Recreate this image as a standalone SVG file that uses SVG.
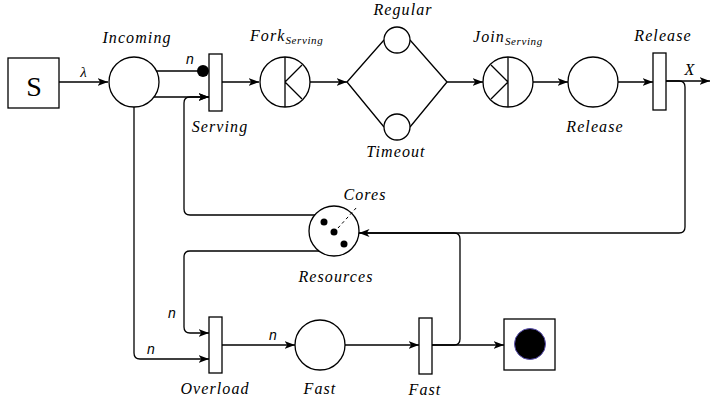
<svg xmlns="http://www.w3.org/2000/svg" width="710" height="406" viewBox="0 0 710 406">
<style>
.sh{fill:#fff;stroke:#000;stroke-width:1.3}
.ed{fill:none;stroke:#000;stroke-width:1.3}
.lb{font-family:"Liberation Serif",serif;font-style:italic;font-size:16px;letter-spacing:1.1px;fill:#000}
.sub{font-size:11px;letter-spacing:0.6px}
.n{font-family:"Liberation Sans",sans-serif;font-style:italic;font-size:14px;fill:#000}
</style>
<defs>
<marker id="ar" markerUnits="userSpaceOnUse" markerWidth="12" markerHeight="9" refX="10.5" refY="4" orient="auto">
<path d="M0,0 L10.5,4 L0,8 L2.8,4 z" fill="#000"/>
</marker>
</defs>
<g id="connectors">
<path class="ed" d="M59,82 L108,82" marker-end="url(#ar)"/>
<path class="ed" d="M156,71 L198,71"/>
<circle cx="203" cy="71" r="6" fill="#000"/>
<path class="ed" d="M154,97 L209,97" marker-end="url(#ar)"/>
<path class="ed" d="M315,215 L190,215 Q184,215 184,209 L184,103 Q184,97 190,97 L209,97" marker-end="url(#ar)"/>
<path class="ed" d="M222,82 L259,82" marker-end="url(#ar)"/>
<path class="ed" d="M310,82 L347,82" marker-end="url(#ar)"/>
<path class="ed" d="M347,82 L384,40 M410,40 L447,82 M347,82 L384,127 M410,127 L447,82"/>
<path class="ed" d="M447,82 L483,82" marker-end="url(#ar)"/>
<path class="ed" d="M533,82 L568,82" marker-end="url(#ar)"/>
<path class="ed" d="M618,82 L653,82" marker-end="url(#ar)"/>
<path class="ed" d="M666,81 L710,81" marker-end="url(#ar)"/>
<path class="ed" d="M666,81 L679,81 Q685,81 685,87 L685,227 Q685,233 679,233 L359,233" marker-end="url(#ar)"/>
<path class="ed" d="M432,345 L454,345 Q460,345 460,339 L460,239 Q460,233 454,233 L359,233"/>
<path class="ed" d="M134,107 L134,353 Q134,359 140,359 L209,359" marker-end="url(#ar)"/>
<path class="ed" d="M319,251 L190,251 Q184,251 184,257 L184,327 Q184,333 190,333 L209,333" marker-end="url(#ar)"/>
<path class="ed" d="M222,345 L295,345" marker-end="url(#ar)"/>
<path class="ed" d="M345,345 L419,345" marker-end="url(#ar)"/>
<path class="ed" d="M432,345 L504,345" marker-end="url(#ar)"/>
<text class="lb" x="84" y="77" text-anchor="middle" style="font-size:15px">λ</text>
<text class="n" x="190" y="64" text-anchor="middle">n</text>
<text class="lb" x="690" y="75" text-anchor="middle">X</text>
<text class="n" x="172" y="318" text-anchor="middle">n</text>
<text class="n" x="151" y="354" text-anchor="middle">n</text>
<text class="n" x="273" y="340" text-anchor="middle">n</text>
</g>
<g id="source">
<rect class="sh" x="8" y="58" width="51" height="50"/>
<text x="34" y="96" text-anchor="middle" font-family="Liberation Serif, serif" font-size="28">S</text>
</g>
<g id="incoming">
<circle class="sh" cx="134" cy="82" r="25"/>
<text class="lb" x="137" y="43" text-anchor="middle">Incoming</text>
</g>
<g id="serving">
<rect class="sh" x="209" y="54" width="13" height="57"/>
<text class="lb" x="220" y="132" text-anchor="middle">Serving</text>
</g>
<g id="fork">
<circle class="sh" cx="285" cy="82" r="25"/>
<path class="ed" d="M285,57 L285,107 M285,82 L302,65 M285,82 L302,99"/>
<text class="lb" x="250" y="41">Fork<tspan class="sub" dy="3">Serving</tspan></text>
</g>
<g id="regular">
<circle class="sh" cx="397" cy="40" r="13"/>
<text class="lb" x="403" y="15" text-anchor="middle">Regular</text>
</g>
<g id="timeout">
<circle class="sh" cx="397" cy="127" r="13"/>
<text class="lb" x="396" y="157" text-anchor="middle">Timeout</text>
</g>
<g id="join">
<circle class="sh" cx="508" cy="82" r="25"/>
<path class="ed" d="M508,57 L508,107 M508,82 L491,65 M508,82 L491,99"/>
<text class="lb" x="473" y="42">Join<tspan class="sub" dy="3">Serving</tspan></text>
</g>
<g id="release-place">
<circle class="sh" cx="593" cy="82" r="25"/>
<text class="lb" x="595" y="132" text-anchor="middle">Release</text>
</g>
<g id="release-transition">
<rect class="sh" x="653" y="53" width="13" height="57"/>
<text class="lb" x="663" y="41" text-anchor="middle">Release</text>
</g>
<g id="resources">
<circle class="sh" cx="334" cy="231" r="25"/>
<circle cx="324" cy="222" r="3.5" fill="#000"/>
<circle cx="334" cy="232" r="3.5" fill="#000"/>
<circle cx="344" cy="244" r="3.5" fill="#000"/>
<path d="M338,228 L357,207" fill="none" stroke="#000" stroke-width="1" stroke-dasharray="3,3"/>
<text class="lb" x="365" y="200" text-anchor="middle">Cores</text>
<text class="lb" x="336" y="282" text-anchor="middle">Resources</text>
</g>
<g id="overload">
<rect class="sh" x="209" y="317" width="13" height="56"/>
<text class="lb" x="215" y="394" text-anchor="middle">Overload</text>
</g>
<g id="fast-place">
<circle class="sh" cx="320" cy="345" r="25"/>
<text class="lb" x="320" y="394" text-anchor="middle">Fast</text>
</g>
<g id="fast-transition">
<rect class="sh" x="419" y="318" width="13" height="56"/>
<text class="lb" x="425" y="395" text-anchor="middle">Fast</text>
</g>
<g id="sink">
<rect class="sh" x="504" y="319" width="51" height="51"/>
<circle cx="530" cy="344" r="15.5" fill="#000" stroke="#5a4fb0" stroke-width="1"/>
</g>
</svg>
